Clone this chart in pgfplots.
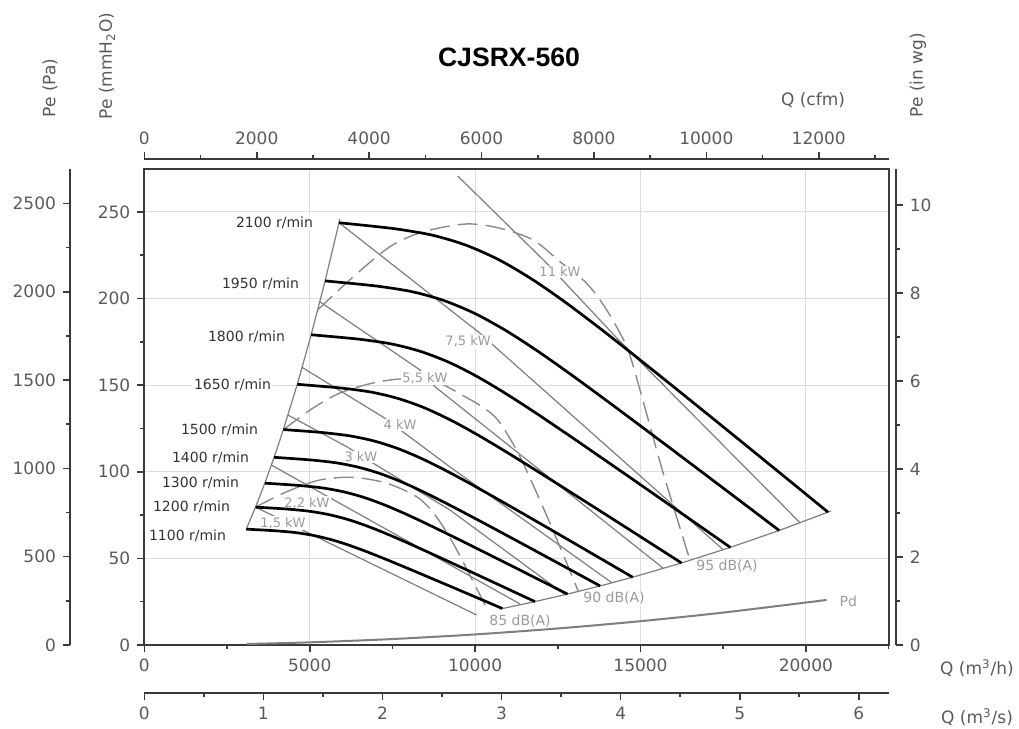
\documentclass[border=0pt]{standalone}
\usepackage{pgfplots}
\pgfplotsset{compat=1.18}
\usepackage{fontspec}
\setmainfont{DejaVu Sans}
\newfontfamily\titlefont{Liberation Sans}
\definecolor{axcol}{HTML}{3A3A3A}
\definecolor{labcol}{HTML}{5A5A5A}
\definecolor{gridcol}{HTML}{DDDDDD}
\definecolor{pwcol}{HTML}{7E7E7E}
\definecolor{dashcol}{HTML}{8A8A8A}
\definecolor{kwcol}{HTML}{9A9A9A}
\definecolor{spdcol}{HTML}{333333}
\pgfplotsset{
  common/.style={scale only axis, tick align=outside, scaled ticks=false,
    /pgf/number format/assume math mode=true,
    /pgf/number format/1000 sep={},
    ticklabel style={font=\fontsize{8.5}{10}\selectfont, text=labcol},
    axis line style={draw=axcol, line width=1pt},
    major tick style={draw=axcol, line width=0.8pt},
    minor tick style={draw=axcol, line width=0.8pt},
    major tick length=3.5pt, minor tick length=2pt},
  spd/.style={black, line width=1.35pt, smooth, tension=0.5},
  pw/.style={pwcol, line width=0.6pt},
  dsh/.style={dashcol, line width=0.7pt, dash pattern=on 10pt off 4pt, smooth, tension=0.5},
  bnd/.style={pwcol, line width=0.6pt}
}
\tikzset{
  kw/.style={fill=white, inner sep=0.6pt, font=\fontsize{6.5}{7.5}\selectfont, text=kwcol},
  db/.style={fill=white, inner sep=0.6pt, font=\fontsize{7}{8}\selectfont, text=kwcol},
  rpm/.style={anchor=east, fill=white, inner sep=0.8pt, font=\fontsize{7}{8}\selectfont, text=spdcol}
}
\begin{document}
\begin{tikzpicture}
\path[use as bounding box] (0,0) rectangle (509.5pt,364.5pt);

% ---------- main axis: mmH2O vs m3/h ----------
\begin{axis}[common, at={(72.15pt,42pt)}, anchor=south west,
  width=372.15pt, height=238.15pt,
  xmin=0, xmax=22500, ymin=0, ymax=275,
  xtick={0,5000,10000,15000,20000}, minor xtick={2500,7500,12500,17500,22500},
  ytick={0,50,100,150,200,250}, minor ytick={25,75,125,175,225},
  xtick pos=left, ytick pos=left,
  grid=major, grid style={draw=gridcol, line width=0.5pt}]

% dynamic pressure
\addplot[color=pwcol, line width=1pt, smooth] coordinates {(3100,0.59) (5000,1.53) (7500,3.44) (10000,6.11) (12500,9.55) (15000,13.75) (17500,18.72) (20623,26.0)};

% boundaries
\addplot[bnd] coordinates {(3083.1,66.89) (3363.4,79.61) (3643.7,93.43) (3924,108.36) (4204.3,124.39) (4624.7,150.51) (5045.1,179.12) (5465.6,210.22) (5886,243.8) (5905,246.0)};
\addplot[bnd] coordinates {(10826.1,21.04) (11810.3,25.05) (12794.5,29.39) (13778.7,34.09) (14762.9,39.13) (16239.1,47.35) (17715.4,56.35) (19191.7,66.13) (20668,76.7) (20760,77.4)};

% power lines
\addplot[pw] coordinates {(3363.4,79.61) (10048,17.3)};
\addplot[pw] coordinates {(3840,103.9) (11357,23.7)};
\addplot[pw] coordinates {(4340,132.8) (6119,114.5) (6923,104.9) (9241,77.9) (12718,29.1)};
\addplot[pw] coordinates {(4769,160.3) (7216,131.6) (9241,102.8) (14129,36.0)};
\addplot[pw] coordinates {(5303,198.2) (8334,158.8) (8788,149.1) (15689,44.3)};
\addplot[pw] coordinates {(5886,243.8) (10148,180.0) (10653,171.3) (17494,55.1)};
\addplot[pw] coordinates {(9474,270.8) (12165,220.4) (14281,177.3) (19816,70.7)};

% dashed curves
\addplot[dsh] coordinates {(3363.4,79.61) (4305,88.5) (5311,95.3) (6318,96.8) (7328,93.4) (8235,85.6) (8788,75.1) (9392,56.8) (10351,21.2)};
\addplot[dsh] coordinates {(4204.3,124.39) (5100,136.8) (5916,145.5) (6914,151.3) (7730,153.6) (8637,153.6) (9695,143.4) (10351,135.7) (10753,128.2) (11358,108.7) (12264,70.3) (13120,31.0)};
\addplot[dsh] coordinates {(5238,193.4) (6318,212.6) (7428,230.0) (8434,238.6) (9746,243.1) (10753,240.6) (11759,233.8) (12566,221.3) (13374,208.8) (13978,193.4) (14583,172.2) (14985,147.2) (15689,99.1) (16496,49.0)};

% labels
\node[kw] at (axis cs:4193,70.4) {1,5 kW};
\node[kw] at (axis cs:4919,82.0) {2,2 kW};
\node[kw] at (axis cs:6549,108.5) {3 kW};
\node[kw] at (axis cs:7730,127.0) {4 kW};
\node[kw] at (axis cs:8486,154.2) {5,5 kW};
\node[kw] at (axis cs:9788,175.1) {7,5 kW};
\node[kw] at (axis cs:12567,215.5) {11 kW};
\node[db] at (axis cs:11357,13.9) {85 dB(A)};
\node[db] at (axis cs:14199,27.1) {90 dB(A)};
\node[db] at (axis cs:17615,45.6) {95 dB(A)};
\node[db, anchor=west] at (axis cs:20970,25.4) {Pd};

\node[rpm] at (axis cs:5160,243.8) {2100 r/min};
\node[rpm] at (axis cs:4737,208.8) {1950 r/min};
\node[rpm] at (axis cs:4314,178.0) {1800 r/min};
\node[rpm] at (axis cs:3891,150.1) {1650 r/min};
\node[rpm] at (axis cs:3497,124.1) {1500 r/min};
\node[rpm] at (axis cs:3226,107.8) {1400 r/min};
\node[rpm] at (axis cs:2923,93.4) {1300 r/min};
\node[rpm] at (axis cs:2651,79.8) {1200 r/min};
\node[rpm] at (axis cs:2530,63.1) {1100 r/min};

% speed curves
\addplot[spd] coordinates {(5886,243.8) (7000,241.6) (7730,239.9) (8736,236.5) (9746,230.7) (10750,222.1) (11759,210.7) (12769,197.3) (13776,182.8) (14782,167.7) (15589,155.4) (16798,136.8) (18000,118.2) (19500,94.9) (20668,76.7)};
\addplot[spd] coordinates {(5465.6,210.22) (6500,208.32) (7177.9,206.85) (8112,203.92) (9050,198.92) (9982.1,191.50) (10919.1,181.67) (11856.9,170.12) (12792,157.62) (13726.1,144.60) (14475.5,133.99) (15598,117.96) (16714.3,101.92) (18107.1,81.83) (19191.7,66.13)};
\addplot[spd] coordinates {(5045.1,179.12) (6000,177.50) (6625.7,176.25) (7488,173.76) (8353.7,169.49) (9214.3,163.18) (10079.1,154.80) (10944.9,144.95) (11808,134.30) (12670.3,123.21) (13362,114.17) (14398.3,100.51) (15428.6,86.84) (16714.3,69.72) (17715.4,56.35)};
\addplot[spd] coordinates {(4624.7,150.51) (5500,149.15) (6073.6,148.10) (6864,146.00) (7657.6,142.42) (8446.4,137.11) (9239.2,130.07) (10032.8,121.80) (10824,112.85) (11614.4,103.53) (12248.4,95.94) (13198.4,84.45) (14142.9,72.97) (15321.4,58.59) (16239.1,47.35)};
\addplot[spd] coordinates {(4204.3,124.39) (5000,123.27) (5521.4,122.40) (6240,120.66) (6961.4,117.70) (7678.6,113.32) (8399.3,107.50) (9120.7,100.66) (9840,93.27) (10558.6,85.56) (11135,79.29) (11998.6,69.80) (12857.1,60.31) (13928.6,48.42) (14762.9,39.13)};
\addplot[spd] coordinates {(3924,108.36) (4666.7,107.38) (5153.3,106.62) (5824,105.11) (6497.3,102.53) (7166.7,98.71) (7839.3,93.64) (8512.7,87.69) (9184,81.24) (9854.7,74.53) (10392.7,69.07) (11198.7,60.80) (12000,52.53) (13000,42.18) (13778.7,34.09)};
\addplot[spd] coordinates {(3643.7,93.43) (4333.3,92.59) (4785.2,91.93) (5408,90.63) (6033.3,88.41) (6654.8,85.11) (7279.4,80.74) (7904.7,75.61) (8528,70.05) (9150.7,64.27) (9650.1,59.55) (10398.8,52.42) (11142.9,45.30) (12071.4,36.37) (12794.5,29.39)};
\addplot[spd] coordinates {(3363.4,79.61) (4000,78.89) (4417.1,78.33) (4992,77.22) (5569.1,75.33) (6142.9,72.52) (6719.4,68.80) (7296.6,64.42) (7872,59.69) (8446.9,54.76) (8908,50.74) (9598.9,44.67) (10285.7,38.60) (11142.9,30.99) (11810.3,25.04)};
\addplot[spd] coordinates {(3083.1,66.89) (3666.7,66.29) (4049,65.82) (4576,64.89) (5105,63.30) (5631,60.94) (6159.5,57.81) (6688.5,54.13) (7216,50.16) (7742.9,46.01) (8165.7,42.64) (8799,37.53) (9428.6,32.43) (10214.3,26.04) (10826.1,21.04)};
\end{axis}

% ---------- Pa axis ----------
\begin{axis}[common, at={(35pt,42pt)}, anchor=south west, width=4pt, height=238.15pt,
  xmin=0, xmax=1, ymin=0, ymax=2696.8, axis y line*=left, axis x line=none,
  ytick={0,500,1000,1500,2000,2500}, minor ytick={250,750,1250,1750,2250}]
\end{axis}

% ---------- in wg axis ----------
\begin{axis}[common, at={(447.85pt,42pt)}, anchor=south east, width=4pt, height=238.15pt,
  xmin=0, xmax=1, ymin=0, ymax=10.8268, axis y line*=right, axis x line=none,
  ytick={0,2,4,6,8,10}, minor ytick={1,3,5,7,9}]
\end{axis}

% ---------- cfm axis ----------
\begin{axis}[common, at={(72.15pt,285pt)}, anchor=north west, width=372.15pt, height=4pt,
  xmin=0, xmax=13243, ymin=0, ymax=1, axis x line*=top, axis y line=none,
  xtick={0,2000,4000,6000,8000,10000,12000}, minor xtick={1000,3000,5000,7000,9000,11000,13000}]
\end{axis}

% ---------- m3/s axis ----------
\begin{axis}[common, at={(72.15pt,18pt)}, anchor=south west, width=372.15pt, height=4pt,
  xmin=0, xmax=6.25, ymin=0, ymax=1, axis x line*=bottom, axis y line=none,
  xtick={0,1,2,3,4,5,6}, minor xtick={0.5,1.5,2.5,3.5,4.5,5.5}]
\end{axis}

% ---------- labels ----------
\begin{scope}[every node/.style={font=\fontsize{8.5}{10}\selectfont, text=labcol}]
\node[rotate=90] at (25pt,320.5pt) {Pe (Pa)};
\node[rotate=90] at (53.5pt,331.5pt) {Pe (mmH\textsubscript{2}O)};
\node[rotate=90] at (459pt,327pt) {Pe (in wg)};
\node at (406.5pt,314.5pt) {Q (cfm)};
\node at (488.5pt,30.5pt) {Q (m\textsuperscript{3}/h)};
\node at (488.5pt,6pt) {Q (m\textsuperscript{3}/s)};
\end{scope}
\node[font=\titlefont\bfseries\fontsize{13.3}{15}\selectfont] at (254.5pt,336pt) {CJSRX-560};
\end{tikzpicture}
\end{document}
